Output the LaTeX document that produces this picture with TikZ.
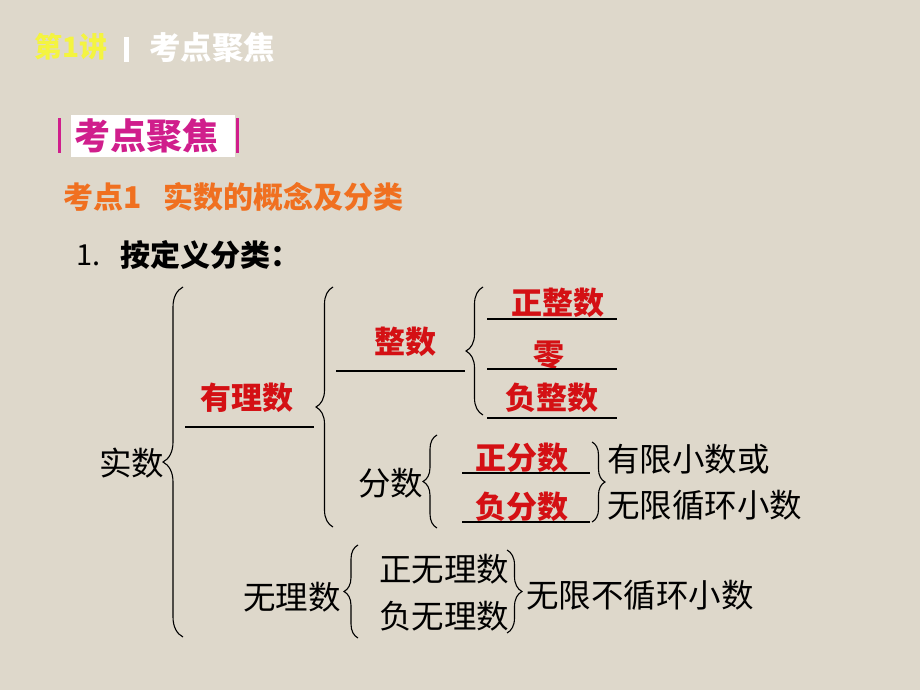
\documentclass[tikz,border=0pt]{standalone}
\usepackage{fontspec}
\setmainfont{Noto Sans CJK SC}
\usetikzlibrary{decorations.pathreplacing}
\definecolor{bgcol}{RGB}{222,216,203}
\definecolor{redcol}{RGB}{212,16,20}
\definecolor{magcol}{RGB}{208,30,140}
\definecolor{orgcol}{RGB}{240,112,32}
\definecolor{yelcol}{RGB}{244,244,64}
\tikzset{
  lbl/.style = {anchor=west, inner sep=0pt, font=\fontsize{32.5}{32.5}\selectfont},
  redlbl/.style = {lbl, text=redcol, font=\fontsize{31}{31}\selectfont\bfseries},
  ttl/.style = {anchor=west, inner sep=0pt, font=\fontsize{30}{30}\selectfont\bfseries},
  brc/.style = {decorate, decoration={brace, amplitude=#1}, line width=1.1pt},
  uline/.style = {line width=1.4pt}
}
\begin{document}
\begin{tikzpicture}[x=1pt, y=-1pt]
\fill[bgcol] (0,0) rectangle (920,690);
\useasboundingbox (0,0) rectangle (920,690);
\node [ttl, text=yelcol, font=\fontsize{28}{28}\selectfont\bfseries] (lec) at (34,47) {第1讲};
\fill[white] (124,37) rectangle (129,62);
\node [ttl, text=white, font=\fontsize{31.5}{31.5}\selectfont\bfseries] (head) at (149,47) {考点聚焦};
\fill[white] (71,115) rectangle (235,157);
\fill[magcol] (58,118) rectangle (61,153);
\fill[magcol] (236,118) rectangle (239,153);
\node [ttl, text=magcol, font=\fontsize{36}{36}\selectfont\bfseries] (box) at (74,136) {考点聚焦};
\node [ttl, text=orgcol] (kd) at (63,197) {考点1\hspace{0.75em}实数的概念及分类};
\node [ttl, font=\fontsize{29}{29}\selectfont] (one) at (76,255) {1.};
\node [ttl] (bydef) at (120,255) {按定义分类：};
\node [lbl] (real) at (99,463) {实数};
\draw[brc=20] (183,637) -- (183,287);
\node [redlbl] (rat) at (200,398) {有理数};
\draw[uline] (185,427) -- (314,427);
\draw[brc=17] (333,527) -- (333,287);
\node [redlbl] (int) at (374,342) {整数};
\draw[uline] (336,371) -- (465,371);
\draw[brc=17] (483,415) -- (483,287);
\node [redlbl] (pint) at (511,303) {正整数};
\draw[uline] (487,319) -- (617,319);
\node [redlbl] (zero) at (533,355) {零};
\draw[uline] (487,369) -- (617,369);
\node [redlbl] (nint) at (505,398) {负整数};
\draw[uline] (487,418) -- (617,418);
\node [lbl] (frac) at (358,483) {分数};
\draw[brc=14] (437,528) -- (437,435);
\node [redlbl] (pfrac) at (475,458) {正分数};
\draw[uline] (462,473) -- (590,473);
\node [redlbl] (nfrac) at (475,507) {负分数};
\draw[uline] (462,522) -- (590,522);
\draw[brc=13] (592,442) -- (592,522);
\node [lbl] (fin) at (607,459) {有限小数或};
\node [lbl] (rep) at (607,505) {无限循环小数};
\node [lbl] (irr) at (243,597) {无理数};
\draw[brc=14] (358,638) -- (358,545);
\node [lbl] (pirr) at (379,569) {正无理数};
\node [lbl] (nirr) at (379,616) {负无理数};
\draw[brc=15] (507,550) -- (507,633);
\node [lbl] (nonrep) at (526,595) {无限不循环小数};
\end{tikzpicture}
\end{document}
